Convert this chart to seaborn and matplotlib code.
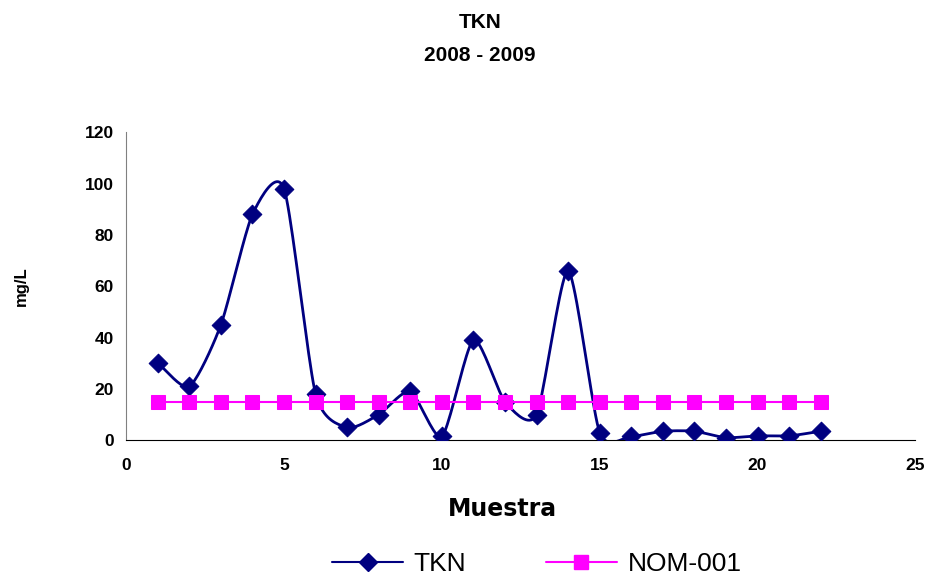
import numpy as np
import pandas as pd
import matplotlib
matplotlib.use("Agg")
import matplotlib.pyplot as plt
import seaborn as sns
from matplotlib.lines import Line2D

# data
muestra = list(range(1, 23))
tkn = [30, 21, 45, 88, 98, 18, 5, 10, 19, 1.5, 39, 15,
       10, 66, 3, 1.5, 3.5, 3.5, 1, 1.7, 1.7, 3.5]
nom_001 = [15] * len(muestra)


def smooth(x, y, n=20, k=0.35):
    # cardinal spline through the points, like Excel's "smoothed line"
    x = np.asarray(x, float)
    y = np.asarray(y, float)
    px = np.concatenate([[2 * x[0] - x[1]], x, [2 * x[-1] - x[-2]]])
    py = np.concatenate([[2 * y[0] - y[1]], y, [2 * y[-1] - y[-2]]])
    xs, ys = [], []
    t = np.linspace(0, 1, n, endpoint=False)
    h00 = 2 * t ** 3 - 3 * t ** 2 + 1
    h10 = t ** 3 - 2 * t ** 2 + t
    h01 = -2 * t ** 3 + 3 * t ** 2
    h11 = t ** 3 - t ** 2
    for i in range(1, len(px) - 2):
        for p, out in ((px, xs), (py, ys)):
            m1 = k * (p[i + 1] - p[i - 1])
            m2 = k * (p[i + 2] - p[i])
            out.extend(h00 * p[i] + h10 * m1 + h01 * p[i + 1] + h11 * m2)
    xs.append(x[-1])
    ys.append(y[-1])
    return np.array(xs), np.array(ys)


sns.set_style("white")
plt.rcParams["font.family"] = ["Liberation Sans", "DejaVu Sans"]
plt.rcParams["text.color"] = "black"
plt.rcParams["axes.labelcolor"] = "black"
plt.rcParams["xtick.color"] = "black"
plt.rcParams["ytick.color"] = "black"

fig = plt.figure(figsize=(9.35, 5.8), dpi=100)
ax = fig.add_axes([0.135, 0.241, 0.844, 0.531])

navy = "#000080"
pink = "#FF00FF"

sx, sy = smooth(muestra, tkn)
curve = pd.DataFrame({"x": sx, "y": sy})
sns.lineplot(data=curve, x="x", y="y", ax=ax, color=navy, lw=2,
             sort=False, estimator=None, zorder=2)
sns.scatterplot(x=muestra, y=tkn, ax=ax, color=navy, marker="D", s=90,
                edgecolor=navy, zorder=3)
sns.lineplot(x=muestra, y=nom_001, ax=ax, color=pink, lw=1.5,
             marker="s", markersize=10, markeredgecolor=pink, zorder=4)

ax.set_xlim(0, 25)
ax.set_ylim(0, 120)
ax.set_xticks(range(0, 26, 5))
ax.set_yticks(range(0, 121, 20))
for lab in ax.get_xticklabels() + ax.get_yticklabels():
    lab.set_fontweight("bold")
    lab.set_fontsize(12.5)

sns.despine(ax=ax)
ax.spines["left"].set_color("#808080")
ax.spines["bottom"].set_color("black")
ax.tick_params(axis="y", direction="out", length=5, color="#808080", pad=4)
ax.tick_params(axis="x", direction="out", length=5, color="#808080", pad=8)

ax.set_xlabel("Muestra", fontsize=17, fontweight="bold",
              family="DejaVu Sans")
ax.xaxis.set_label_coords(0.477, -0.183)
ax.set_ylabel("mg/L", fontsize=12, fontweight="bold", labelpad=40)

fig.text(0.513, 0.962, "TKN", ha="center", va="center",
         fontsize=15, fontweight="bold")
fig.text(0.513, 0.905, "2008 - 2009", ha="center", va="center",
         fontsize=15, fontweight="bold")

# legend like Excel's, with line through the marker
handles = [
    Line2D([0], [0], color=navy, lw=1.5, marker="D", markersize=9),
    Line2D([0], [0], color=pink, lw=1.5, marker="s", markersize=10),
]
fig.legend(handles, ["TKN", "NOM-001"], loc="center", ncol=2,
           bbox_to_anchor=(0.574, 0.027), frameon=False, fontsize=19,
           handlelength=2.7, handletextpad=0.4, columnspacing=3.0)

fig.savefig("out.png", dpi=100)
